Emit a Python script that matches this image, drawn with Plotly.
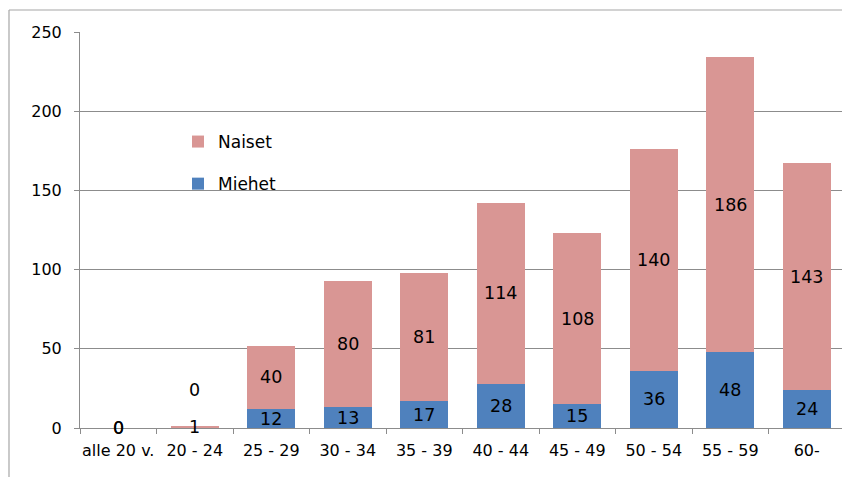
import plotly.graph_objects as go

categories = ["alle 20 v.", "20 - 24", "25 - 29", "30 - 34", "35 - 39", "40 - 44",
              "45 - 49", "50 - 54", "55 - 59", "60-"]
miehet = [0, 0, 12, 13, 17, 28, 15, 36, 48, 24]
naiset = [0, 1, 40, 80, 81, 114, 108, 140, 186, 143]
y_ticks = [0, 50, 100, 150, 200, 250]

BLUE = "#4F81BD"
PINK = "#D99694"
GRID = "#8C8C8C"
FONT = "DejaVu Sans"

W, H = 842, 477
ML, MR, MT, MB = 80, 0, 32, 49

fig = go.Figure()
fig.add_trace(go.Bar(x=categories, y=miehet, name="Miehet", marker=dict(color=BLUE, line=dict(width=0)),
                     legendgroup="m", legendrank=2))
fig.add_trace(go.Bar(x=categories, y=naiset, name="Naiset", marker=dict(color=PINK, line=dict(width=0)),
                     legendgroup="n", legendrank=1))

annotations = []
for i, c in enumerate(categories):
    m = miehet[i]
    n = naiset[i]
    # Miehet label (the 20-24 one was moved up in the original)
    shift = 38 if (m == 0 and n > 0) else 0
    annotations.append(dict(x=c, y=m / 2, text=str(m), showarrow=False, xref="x", yref="y",
                            yshift=shift, font=dict(family=FONT, size=17.5, color="#000")))
    annotations.append(dict(x=c, y=m + n / 2, text=str(n), showarrow=False, xref="x", yref="y",
                            font=dict(family=FONT, size=17.5, color="#000")))

pw = W - ML - MR
ph = H - MT - MB
shapes = [
    dict(type="line", xref="paper", yref="paper", x0=(9 - ML) / pw, x1=(9 - ML) / pw,
         y0=(H - MB - 10) / ph, y1=-0.3, line=dict(color="#A6A6A6", width=1.2)),
    dict(type="line", xref="paper", yref="paper", x0=(9 - ML) / pw, x1=1.1,
         y0=(H - MB - 10) / ph, y1=(H - MB - 10) / ph, line=dict(color="#A6A6A6", width=1.2)),
]

fig.update_layout(
    width=W, height=H,
    margin=dict(l=ML, r=MR, t=MT, b=MB, autoexpand=False),
    barmode="stack", bargap=0.37,
    plot_bgcolor="white", paper_bgcolor="white",
    font=dict(family=FONT, size=16, color="#000"),
    annotations=annotations, shapes=shapes,
    legend=dict(x=(178 - ML) / pw, y=(H - MB - 124) / ph, xanchor="left", yanchor="top",
                traceorder="grouped", tracegroupgap=17,
                font=dict(family=FONT, size=17, color="#000"), bgcolor="rgba(0,0,0,0)",
                itemwidth=30),
    xaxis=dict(range=[-0.5, 9.5 - 3 / 76.5], showline=True, linecolor=GRID, linewidth=1,
               ticks="outside", tickson="boundaries", ticklen=5, tickcolor=GRID,
               showgrid=False, tickfont=dict(family=FONT, size=16), tickangle=0,
               automargin=False, ticklabelstandoff=8),
    yaxis=dict(range=[0, 250], tickvals=y_ticks, showline=True, linecolor=GRID, linewidth=1,
               ticks="outside", ticklen=5, tickcolor=GRID, showgrid=True, gridcolor=GRID,
               gridwidth=1, zeroline=False, tickfont=dict(family=FONT, size=16),
               automargin=False, ticklabelstandoff=9),
)

fig.write_html("out.html")
